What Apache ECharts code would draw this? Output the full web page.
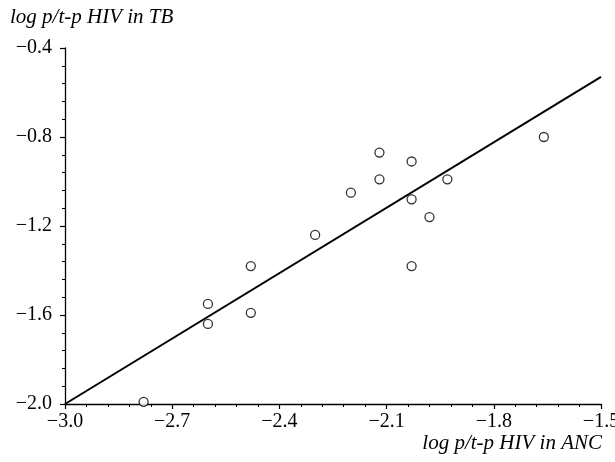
<!DOCTYPE html>
<html>
<head>
<meta charset="utf-8">
<script src="https://cdn.jsdelivr.net/npm/echarts@6/dist/echarts.min.js"></script>
<style>
html, body { margin: 0; padding: 0; background: #fff; }
#main { width: 615px; height: 462px; }
</style>
</head>
<body>
<div id="main"></div>
<script>
// log p/t-p HIV: ANC (x) against TB (y)
var ancValues = [-2.78, -2.60, -2.60, -2.48, -2.48, -2.30, -2.20, -2.12, -2.12, -2.03, -2.03, -1.98, -1.93, -2.03, -1.66];
var tbValues  = [-1.99, -1.55, -1.64, -1.38, -1.59, -1.24, -1.05, -0.87, -0.99, -0.91, -1.08, -1.16, -0.99, -1.38, -0.80];
// fitted line end points
var fitX = [-3.0, -1.5];
var fitY = [-2.0, -0.53];

var points = ancValues.map(function (x, i) { return [x, tbValues[i]]; });
var fitLine = fitX.map(function (x, i) { return [x, fitY[i]]; });

var serif = "'Liberation Serif', 'Times New Roman', serif";
function fmt(v) {
	return v.toFixed(1).replace('-', '\u2212');
}

var myChart = echarts.init(document.getElementById('main'));
var option = {
	backgroundColor: '#fff',
	animation: false,
	grid: { left: 65, right: 14, top: 48, bottom: 58, outerBoundsMode: 'none', containLabel: false },
	xAxis: {
		type: 'value',
		min: -3.0,
		max: -1.5,
		interval: 0.3,
		axisLine: { onZero: false, lineStyle: { color: '#000', width: 1.3 } },
		axisTick: { show: true, inside: false, length: 5, lineStyle: { color: '#000', width: 1.2 } },
		minorTick: { show: true, splitNumber: 5, length: 3, lineStyle: { color: '#000', width: 1 } },
		splitLine: { show: false },
		axisLabel: {
			color: '#000',
			fontFamily: serif,
			fontSize: 20,
			margin: 8,
			formatter: fmt
		}
	},
	yAxis: {
		type: 'value',
		min: -2.0,
		max: -0.4,
		interval: 0.4,
		axisLine: { show: true, onZero: false, lineStyle: { color: '#000', width: 1.3 } },
		axisTick: { show: true, inside: false, length: 5, lineStyle: { color: '#000', width: 1.2 } },
		minorTick: { show: true, splitNumber: 5, length: 3, lineStyle: { color: '#000', width: 1 } },
		splitLine: { show: false },
		axisLabel: {
			color: '#000',
			fontFamily: serif,
			fontSize: 20,
			margin: 13,
			formatter: fmt
		}
	},
	graphic: [
		{
			type: 'text',
			left: 10,
			top: 7,
			style: {
				text: 'log p/t-p HIV in TB',
				font: 'italic 21px ' + serif,
				fill: '#000'
			}
		},
		{
			type: 'text',
			right: 13,
			top: 433,
			style: {
				text: 'log p/t-p HIV in ANC',
				font: 'italic 21px ' + serif,
				fill: '#000'
			}
		}
	],
	series: [
		{
			type: 'line',
			data: fitLine,
			symbol: 'none',
			lineStyle: { color: '#000', width: 2 },
			z: 2
		},
		{
			type: 'scatter',
			data: points,
			symbol: 'circle',
			symbolSize: 9,
			itemStyle: { color: '#fff', borderColor: '#000', borderWidth: 1.3 },
			z: 3
		}
	]
};
myChart.setOption(option);
</script>
</body>
</html>
